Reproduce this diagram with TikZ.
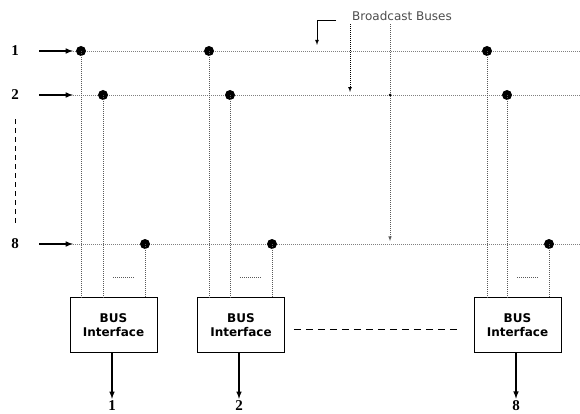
\documentclass[tikz,border=0pt]{standalone}
\usepackage{fontspec}
\setmainfont{Liberation Serif}
\newfontfamily\verafont{DejaVu Sans}
\begin{document}
\begin{tikzpicture}[x=1pt,y=-1pt,
  bus/.style={gray,line width=0.7pt,dash pattern=on 1pt off 1pt},
  tap/.style={gray!70!black,line width=0.6pt,dash pattern=on 1pt off 1pt},
  feed/.style={-latex,line width=1.5pt},
  busdot/.style={circle,fill=black,inner sep=0pt,minimum size=10pt},
  iface/.style={draw,line width=0.8pt,minimum width=87pt,minimum height=55pt,align=center,font=\verafont\bfseries\fontsize{12}{14}\selectfont},
  num/.style={font=\bfseries\fontsize{15}{15}\selectfont,inner sep=2pt}]
\useasboundingbox (0,0) rectangle (580,414);
% buses
\foreach \b/\y in {1/51,2/95,8/244}{
  \node[num] (n\b) at (15,\y) {\b};
  \coordinate (a\b) at (39,\y);
  \coordinate (s\b) at (73,\y);
  \coordinate (e\b) at (580,\y);
  \draw[feed] (a\b) -- (s\b);
  \draw[bus] (s\b) -- (e\b);
}
\draw[line width=0.7pt,dash pattern=on 5pt off 4pt,shorten <=17pt,shorten >=10pt] (n2.south) -- (n8.north);
% interfaces
\node[iface] (bi1) at (113.5,325) {BUS\\Interface};
\node[iface] (bi2) at (241,325) {BUS\\Interface};
\node[iface] (bi3) at (517.5,325) {BUS\\Interface};
\foreach \c/\xa/\xb/\xc/\lab in {1/81/103/145/1,2/209/230/272/2,3/487/507/549/8}{
  \node[busdot] (d1\c) at (\xa,51) {};
  \node[busdot] (d2\c) at (\xb,95) {};
  \node[busdot] (d8\c) at (\xc,244) {};
  \draw[tap] (d1\c.center) -- (d1\c.center |- bi\c.north);
  \draw[tap] (d2\c.center) -- (d2\c.center |- bi\c.north);
  \draw[tap] (d8\c.center) -- (d8\c.center |- bi\c.north);
  \draw[tap] ({\xb+10},277) -- ({\xc-10},277);
  \node[num] (m\c) at ({\xb+9},406) {\lab};
  \draw[feed] (bi\c.south -| m\c) -- (m\c.north);
}
\draw[line width=0.8pt,dash pattern=on 7pt off 5pt] ([xshift=9pt,yshift=-4pt]bi2.east) -- ([xshift=-14pt,yshift=-4pt]bi3.west);
% broadcast label
\node[gray!60!black,font=\verafont\fontsize{12}{14}\selectfont] (bb) at (402,16) {Broadcast Buses};
\coordinate (k0) at (336,20);
\coordinate (k1) at (317,45);
\coordinate (t2) at (350,92);
\coordinate (t8) at (390,241);
\draw[-latex,line width=0.8pt] (k0) -| (k1);
\draw[-latex,line width=0.7pt,dash pattern=on 1pt off 1pt] (bb.south -| t2) -- (t2);
\draw[-latex,gray!70!black,line width=0.6pt,dash pattern=on 1pt off 1pt] (bb.south -| t8) -- (t8);
\fill (s2 -| t8) circle (1.5pt);
\end{tikzpicture}
\end{document}
